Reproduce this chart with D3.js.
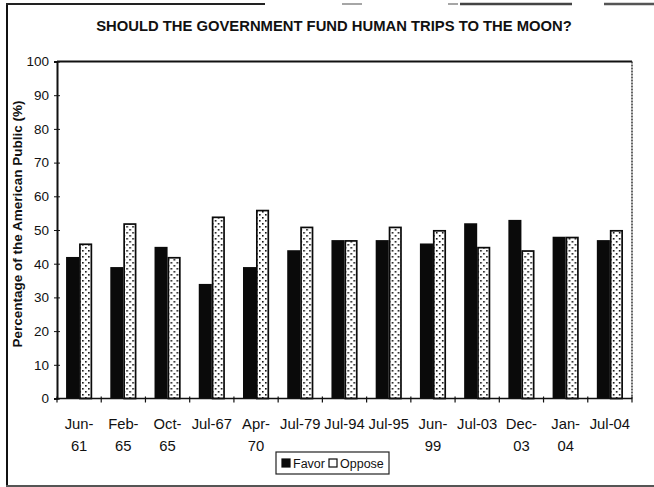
<!DOCTYPE html>
<html>
<head>
<meta charset="utf-8">
<script src="https://cdn.jsdelivr.net/npm/d3@7"></script>
<style>
  html, body { margin: 0; padding: 0; background: #fff; }
  svg { display: block; font-family: "Liberation Sans", Arial, sans-serif; }
</style>
</head>
<body>
<svg id="chart" width="654" height="487"></svg>
<script>
// Survey dates (two-line labels split on "|")
const categories = ["Jun-|61", "Feb-|65", "Oct-|65", "Jul-67", "Apr-|70", "Jul-79", "Jul-94",
                    "Jul-95", "Jun-|99", "Jul-03", "Dec-|03", "Jan-|04", "Jul-04"];
const seriesNames = ["Favor", "Oppose"];
const favor  = [42, 39, 45, 34, 39, 44, 47, 47, 46, 52, 53, 48, 47];
const oppose = [46, 52, 42, 54, 56, 51, 47, 51, 50, 45, 44, 48, 50];
const yTicks = [0, 10, 20, 30, 40, 50, 60, 70, 80, 90, 100];

const title = "SHOULD THE GOVERNMENT FUND HUMAN TRIPS TO THE MOON?";
const yLabel = "Percentage of the American Public (%)";

const svg = d3.select("#chart");
const plot = { left: 57, right: 632, top: 61.5, bottom: 398.5 };

// dotted fill for the Oppose bars
const defs = svg.append("defs");
const pat = defs.append("pattern")
  .attr("id", "dots").attr("patternUnits", "userSpaceOnUse")
  .attr("width", 6).attr("height", 6);
pat.append("rect").attr("width", 6).attr("height", 6).attr("fill", "#fff");
pat.append("rect").attr("x", 1).attr("y", 1).attr("width", 1.6).attr("height", 1.6).attr("fill", "#111");
pat.append("rect").attr("x", 4).attr("y", 4).attr("width", 1.6).attr("height", 1.6).attr("fill", "#111");

// outer frame (scanned page edges)
const frame = svg.append("g").attr("stroke-linecap", "butt");
frame.append("line").attr("x1", 7).attr("y1", 4).attr("x2", 7).attr("y2", 486)
  .attr("stroke", "#111").attr("stroke-width", 2);
frame.append("line").attr("x1", 6).attr("y1", 486).attr("x2", 654).attr("y2", 486)
  .attr("stroke", "#555").attr("stroke-width", 2);
[[6, 265, "#222", 2], [342, 362, "#888", 1.5], [448, 458, "#888", 1.5],
 [460, 572, "#444", 2.5], [604, 654, "#555", 2.5]].forEach(([a, b, c, w]) => {
  frame.append("line").attr("x1", a).attr("x2", b).attr("y1", 4).attr("y2", 4)
    .attr("stroke", c).attr("stroke-width", w);
});

// title
svg.append("text")
  .attr("x", 334).attr("y", 31)
  .attr("text-anchor", "middle")
  .attr("font-size", 14.8).attr("font-weight", "bold").attr("fill", "#111")
  .text(title);

// scales
const x = d3.scaleBand().domain(categories)
  .range([plot.left, plot.right]).paddingInner(0.41).paddingOuter(0.205);
const xs = d3.scaleBand().domain(seriesNames).range([0, x.bandwidth()]);
const y = d3.scaleLinear().domain([0, 100]).range([plot.bottom, plot.top]);

// plot area border: top and dotted right edge
svg.append("line").attr("x1", plot.left).attr("x2", plot.right)
  .attr("y1", plot.top).attr("y2", plot.top)
  .attr("stroke", "#111").attr("stroke-width", 2);
svg.append("line").attr("x1", plot.right).attr("x2", plot.right)
  .attr("y1", plot.top).attr("y2", plot.bottom)
  .attr("stroke", "#333").attr("stroke-width", 1.5).attr("stroke-dasharray", "2,1");

// bars
const rows = categories.map((c, i) => ({ c, values: [favor[i], oppose[i]] }));
const groups = svg.append("g").selectAll("g").data(rows).join("g")
  .attr("transform", d => `translate(${x(d.c)},0)`);
groups.selectAll("rect")
  .data(d => d.values.map((v, j) => ({ name: seriesNames[j], v })))
  .join("rect")
  .attr("x", d => xs(d.name) + (d.name === "Oppose" ? 0.8 : 0))
  .attr("y", d => y(d.v) + (d.name === "Oppose" ? 0.8 : 0))
  .attr("width", d => xs.bandwidth() - (d.name === "Oppose" ? 1.6 : 0))
  .attr("height", d => y(0) - y(d.v) - (d.name === "Oppose" ? 0.8 : 0))
  .attr("fill", d => d.name === "Favor" ? "#0a0a0a" : "url(#dots)")
  .attr("stroke", d => d.name === "Favor" ? "none" : "#0a0a0a")
  .attr("stroke-width", 1.7);

// y axis
const yAxis = svg.append("g").attr("transform", `translate(${plot.left},0)`)
  .call(d3.axisLeft(y).tickValues(yTicks).tickSize(3).tickPadding(5));
yAxis.select(".domain").attr("stroke", "#111").attr("stroke-width", 2);
yAxis.selectAll(".tick line").attr("stroke", "#111").attr("x2", 3).attr("x1", -3);
yAxis.selectAll(".tick text").attr("font-size", 13.5).attr("fill", "#111")
  .attr("font-family", "Liberation Sans, Arial, sans-serif");

// x axis line with ticks on category boundaries
const step = x.step();
const xBase = svg.append("g");
xBase.append("line").attr("x1", plot.left).attr("x2", plot.right)
  .attr("y1", plot.bottom).attr("y2", plot.bottom)
  .attr("stroke", "#111").attr("stroke-width", 1.5);
xBase.selectAll("line.tick").data(d3.range(categories.length + 1)).join("line")
  .attr("class", "tick")
  .attr("x1", i => plot.left + i * step).attr("x2", i => plot.left + i * step)
  .attr("y1", plot.bottom - 2).attr("y2", plot.bottom + 4)
  .attr("stroke", "#111").attr("stroke-width", 1.2);

// category labels
const labels = svg.append("g").selectAll("text").data(categories).join("text")
  .attr("x", d => x(d) + x.bandwidth() / 2)
  .attr("y", 429)
  .attr("text-anchor", "middle")
  .attr("font-size", 14.8).attr("fill", "#111");
labels.selectAll("tspan").data(d => d.split("|")).join("tspan")
  .attr("x", function () { return d3.select(this.parentNode).attr("x"); })
  .attr("dy", (d, i) => i === 0 ? 0 : 22)
  .text(d => d);

// y axis title
svg.append("text")
  .attr("transform", "translate(22,224) rotate(-90)")
  .attr("text-anchor", "middle")
  .attr("font-size", 13.5).attr("font-weight", "bold").attr("fill", "#111")
  .text(yLabel);

// legend
const lg = svg.append("g").attr("transform", "translate(276,452)");
lg.append("rect").attr("x", 0).attr("y", 0).attr("width", 113).attr("height", 22)
  .attr("fill", "#fff").attr("stroke", "#222").attr("stroke-width", 1.2);
const li = lg.selectAll("g").data(seriesNames).join("g")
  .attr("transform", (d, i) => `translate(${i === 0 ? 6 : 53},0)`);
li.append("rect").attr("x", 0).attr("y", 7).attr("width", 8).attr("height", 8)
  .attr("fill", d => d === "Favor" ? "#0a0a0a" : "#fff")
  .attr("stroke", "#0a0a0a").attr("stroke-width", 1.2);
li.append("text").attr("x", 11).attr("y", 15.5)
  .attr("font-size", 12.5).attr("fill", "#111").text(d => d);
</script>
</body>
</html>
